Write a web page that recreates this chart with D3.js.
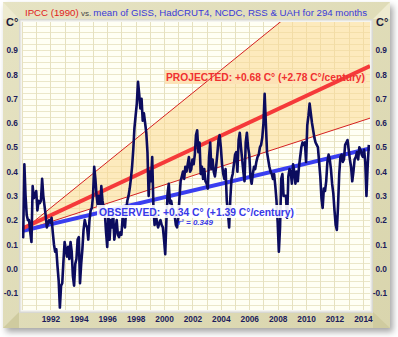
<!DOCTYPE html>
<html><head><meta charset="utf-8">
<script src="https://cdn.jsdelivr.net/npm/d3@7"></script>
<style>html,body{margin:0;padding:0;background:#fff;}svg{display:block;font-family:"Liberation Sans",Arial,sans-serif;}</style>
</head><body><svg id="c" width="398" height="337"></svg>
<script>
// ---- data ----
const startYear = 1990;
const anomalies = [
0.17,0.13,0.43,0.30,0.22,0.20,0.20,0.15,0.11,0.34,0.29,0.30,
0.32,0.24,0.28,0.27,0.28,0.37,0.30,0.26,0.22,0.17,0.19,0.20,
0.19,0.21,0.15,0.10,0.07,0.08,0.01,-0.05,-0.16,-0.07,-0.06,0.03,
0.11,0.08,0.05,0.09,0.04,0.11,0.07,-0.03,-0.07,0.02,0.04,0.12,
0.13,-0.06,0.02,0.08,0.16,0.20,0.18,0.17,0.12,0.20,0.24,0.25,
0.30,0.42,0.37,0.30,0.26,0.30,0.23,0.34,0.28,0.25,0.23,0.15,
0.09,0.22,0.12,0.20,0.17,0.23,0.12,0.16,0.20,0.14,0.13,0.15,
0.14,0.21,0.19,0.17,0.24,0.28,0.30,0.33,0.37,0.42,0.49,0.58,
0.63,0.68,0.77,0.72,0.66,0.70,0.61,0.64,0.60,0.56,0.48,0.30,
0.40,0.36,0.46,0.26,0.18,0.23,0.19,0.17,0.19,0.20,0.18,0.17,
0.12,0.06,0.20,0.31,0.35,0.27,0.28,0.25,0.24,0.22,0.18,0.17,
0.21,0.29,0.36,0.38,0.40,0.37,0.42,0.40,0.43,0.46,0.40,0.41,
0.45,0.43,0.47,0.55,0.57,0.48,0.52,0.39,0.42,0.37,0.41,0.36,
0.35,0.33,0.46,0.52,0.41,0.45,0.40,0.38,0.42,0.47,0.53,0.55,
0.50,0.43,0.39,0.37,0.41,0.28,0.23,0.17,0.29,0.37,0.39,0.43,
0.47,0.48,0.40,0.53,0.56,0.50,0.45,0.40,0.36,0.52,0.56,0.50,
0.47,0.38,0.35,0.39,0.42,0.41,0.44,0.46,0.47,0.50,0.51,0.54,
0.60,0.72,0.60,0.48,0.45,0.42,0.40,0.39,0.37,0.39,0.34,0.28,
0.19,0.07,0.17,0.37,0.39,0.30,0.30,0.30,0.21,0.38,0.41,0.40,
0.35,0.43,0.40,0.35,0.40,0.36,0.42,0.46,0.50,0.52,0.51,0.52,
0.44,0.59,0.63,0.68,0.64,0.60,0.57,0.54,0.52,0.51,0.50,0.44,
0.38,0.29,0.25,0.33,0.32,0.36,0.44,0.47,0.45,0.41,0.35,0.31,
0.24,0.18,0.16,0.26,0.39,0.46,0.47,0.44,0.45,0.51,0.52,0.53,
0.49,0.45,0.42,0.36,0.40,0.45,0.46,0.48,0.45,0.50,0.49,0.47,
0.46,0.49,0.44,0.30,0.42,0.51
];
const trendStart = 0.155;          // common origin of trend lines at start
const projectedRise = 0.68;        // +0.68 C over period
const projectedHighRise = 1.16;    // upper bound of IPCC range
const projectedLowRise = 0.465;    // lower bound of IPCC range
const observedRise = 0.34;         // +0.34 C over period
const periodYears = 24.5;
const yearTicks = [1992,1994,1996,1998,2000,2002,2004,2006,2008,2010,2012,2014];
const valueTicks = [-0.1,0.0,0.1,0.2,0.3,0.4,0.5,0.6,0.7,0.8,0.9];

// ---- layout ----
const svg = d3.select("#c");
const L = 22, R = 370, T = 22, B = 310;
const x = d3.scaleLinear().domain([startYear, startYear + periodYears]).range([L, R]);
const y = d3.scaleLinear().domain([-0.17, 1.016]).range([B, T]);

const defs = svg.append("defs");
const f = defs.append("filter").attr("id","sh").attr("x","-5%").attr("y","-5%").attr("width","115%").attr("height","115%");
f.append("feDropShadow").attr("dx",3).attr("dy",4).attr("stdDeviation",3).attr("flood-color","#000").attr("flood-opacity",0.35);
const g1 = defs.append("linearGradient").attr("id","frame").attr("x1",0).attr("y1",0).attr("x2",1).attr("y2",1);
g1.append("stop").attr("offset","0%").attr("stop-color","#e6e3c3");
g1.append("stop").attr("offset","100%").attr("stop-color","#d9d5ad");
defs.append("clipPath").attr("id","clip").append("rect").attr("x",L).attr("y",T).attr("width",R-L).attr("height",B-T);

// frame
svg.append("rect").attr("x",3).attr("y",2).attr("width",387).attr("height",326).attr("fill","url(#frame)").attr("filter","url(#sh)");
svg.append("path").attr("d",`M3,328 L19,312 L19,328 Z`).attr("fill","#cfcb9f");
svg.append("path").attr("d",`M390,328 L373,312 L373,328 Z`).attr("fill","#cfcb9f");
svg.append("path").attr("d",`M3,2 L19,19 L3,19 Z`).attr("fill","#eeebd0");
svg.append("path").attr("d",`M390,2 L373,19 L390,19 Z`).attr("fill","#eeebd0");
svg.append("rect").attr("x",L-3).attr("y",T-3).attr("width",R-L+6).attr("height",B-T+6).attr("fill","#d8d8d4");
svg.append("rect").attr("x",L-1.5).attr("y",T-1.5).attr("width",R-L+3).attr("height",B-T+3).attr("fill","#f4f4f0");
svg.append("rect").attr("x",L).attr("y",T).attr("width",R-L).attr("height",B-T).attr("fill","#fffff4");

const plot = svg.append("g").attr("clip-path","url(#clip)");
const hgrid = d3.range(-0.175, 1.03, 0.025);
plot.selectAll(".hg").data(hgrid).join("line").attr("x1",L).attr("x2",R)
  .attr("y1",d=>Math.round(y(d))+0.5).attr("y2",d=>Math.round(y(d))+0.5).attr("stroke","#ebe7c9").attr("stroke-width",1);
const vgrid = d3.range(startYear, startYear + periodYears + 0.01, 1);
plot.selectAll(".vg").data(vgrid).join("line").attr("y1",T).attr("y2",B)
  .attr("x1",d=>Math.round(x(d))+0.5).attr("x2",d=>Math.round(x(d))+0.5).attr("stroke","#e6e1c0").attr("stroke-width",1);

const x0 = startYear, x1 = startYear + periodYears;
plot.append("path").attr("d", d3.line().x(d=>x(d[0])).y(d=>y(d[1]))([
  [x0,trendStart],[x1,trendStart+projectedHighRise],[x1,trendStart+projectedLowRise]
]) + "Z").attr("fill","#fbd98f").attr("fill-opacity",0.55);
plot.append("rect").attr("x",165).attr("y",70).attr("width",201).attr("height",14).attr("fill","#fde2b6");
plot.append("line").attr("x1",x(x0)).attr("y1",y(trendStart)).attr("x2",x(x1)).attr("y2",y(trendStart+projectedHighRise))
  .attr("stroke","#d42020").attr("stroke-width",1);
plot.append("line").attr("x1",x(x0)).attr("y1",y(trendStart)).attr("x2",x(x1)).attr("y2",y(trendStart+projectedLowRise))
  .attr("stroke","#d42020").attr("stroke-width",1);
plot.append("line").attr("x1",x(x0)).attr("y1",y(trendStart)).attr("x2",x(x1)).attr("y2",y(trendStart+observedRise))
  .attr("stroke","#3a3ef0").attr("stroke-width",4);
plot.append("line").attr("x1",x(x0)).attr("y1",y(trendStart+0.01)).attr("x2",x(x1)).attr("y2",y(trendStart+projectedRise))
  .attr("stroke","#f53a3a").attr("stroke-width",4);

plot.append("path").datum(anomalies)
  .attr("d", d3.line().x((d,i)=>x(startYear + i/12)).y(d=>y(d)))
  .attr("fill","none").attr("stroke","#0c0c5e").attr("stroke-width",2.6).attr("stroke-linejoin","round");

svg.append("text").attr("x",166).attr("y",81).attr("font-size",10.6).attr("font-weight","bold").attr("fill","#f03030")
  .attr("textLength",199).attr("lengthAdjust","spacingAndGlyphs")
  .text("PROJECTED: +0.68 C° (+2.78 C°/century)");
svg.append("rect").attr("x",97).attr("y",205).attr("width",199).attr("height",13).attr("fill","#ffffff").attr("fill-opacity",0.9);
svg.append("text").attr("x",99).attr("y",216).attr("font-size",10.6).attr("font-weight","bold").attr("fill","#3838e8")
  .attr("textLength",195).attr("lengthAdjust","spacingAndGlyphs")
  .text("OBSERVED: +0.34 C° (+1.39 C°/century)");
svg.append("text").attr("x",178).attr("y",225).attr("font-size",8).attr("font-style","italic").attr("font-weight","bold").attr("fill","#3838e8")
  .text("r² = 0.349");

const axL = d3.axisLeft(y).tickValues(valueTicks).tickFormat(d3.format(".1f")).tickSize(0).tickPadding(0);
const gL = svg.append("g").attr("transform","translate(18,0)").call(axL);
const axRt = d3.axisLeft(y).tickValues(valueTicks).tickFormat(d3.format(".1f")).tickSize(0).tickPadding(0);
const gR = svg.append("g").attr("transform","translate(387,0)").call(axRt);
const axB = d3.axisBottom(x).tickValues(yearTicks).tickFormat(d3.format("d")).tickSize(0).tickPadding(0);
const gB = svg.append("g").attr("transform","translate(0,316)").call(axB);
[gL,gR,gB].forEach(g=>{
  g.select(".domain").remove();
  g.selectAll("text").attr("font-family","'Liberation Sans',Arial,sans-serif").attr("font-size",8.3)
    .attr("font-weight","bold").attr("fill","#1c1c5c");
});
gL.selectAll("text").text(d=>d3.format(".1f")(d).replace("−","-"));
gR.selectAll("text").text(d=>d3.format(".1f")(d).replace("−","-"));

svg.append("text").attr("x",6).attr("y",26).attr("font-size",11).attr("font-weight","bold").attr("fill","#1a1a3a").text("C°");
svg.append("text").attr("x",376).attr("y",26).attr("font-size",11).attr("font-weight","bold").attr("fill","#1a1a3a").text("C°");

const title = svg.append("text").attr("x",25).attr("y",16).attr("font-size",10);
title.append("tspan").attr("fill","#e02020").text("IPCC (1990)");
title.append("tspan").attr("fill","#444").attr("font-size",8).text(" vs. ");
title.append("tspan").attr("fill","#3a3ad8").text("mean of GISS, HadCRUT4, NCDC, RSS & UAH for 294 months");
const tw = title.node().getComputedTextLength();
if (tw > 342) title.attr("font-size", 10*342/tw);
</script></body></html>
